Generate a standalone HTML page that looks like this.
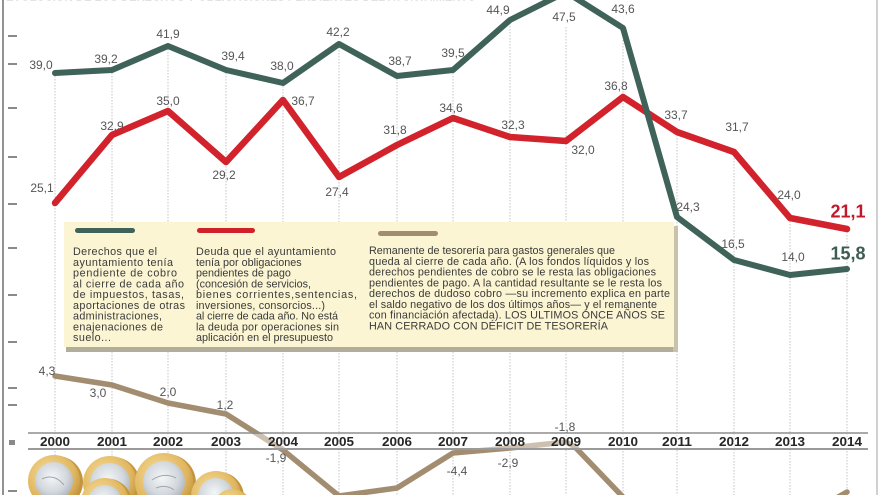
<!DOCTYPE html>
<html><head><meta charset="utf-8"><style>
html,body{margin:0;padding:0;background:#fff;width:880px;height:495px;overflow:hidden;}
svg{display:block;}
text{font-family:"Liberation Sans",sans-serif;}
</style></head><body>
<svg width="880" height="495" viewBox="0 0 880 495" xmlns="http://www.w3.org/2000/svg" overflow="hidden">
<defs>
<radialGradient id="silver" cx="45%" cy="40%" r="65%">
<stop offset="0" stop-color="#f4f6f8"/><stop offset="0.6" stop-color="#d2d8dd"/><stop offset="1" stop-color="#a9b0b6"/>
</radialGradient>
<radialGradient id="gold" cx="40%" cy="35%" r="70%">
<stop offset="0" stop-color="#f6dc98"/><stop offset="0.7" stop-color="#e0b660"/><stop offset="1" stop-color="#c3933d"/>
</radialGradient>
<pattern id="coins" patternUnits="userSpaceOnUse" x="0" y="0" width="880" height="495">
<g transform="translate(54,481)"><circle cx="3" cy="1" r="26" fill="#c3953f"/><circle r="26" fill="url(#gold)"/><circle r="19" fill="url(#silver)"/><path d="M-12,-2 Q0,-8 10,4" stroke="#a0a7ad" stroke-width="1" fill="none"/></g>
<g transform="translate(110,483)"><circle cx="3" cy="1" r="27" fill="#c3953f"/><circle r="27" fill="url(#gold)"/><circle r="20" fill="url(#silver)"/><path d="M-10,0 Q2,-8 12,2" stroke="#a0a7ad" stroke-width="1" fill="none"/></g>
<g transform="translate(105,502)"><circle cx="3" cy="1" r="24" fill="#c3953f"/><circle r="24" fill="url(#gold)"/><circle r="17" fill="url(#silver)"/></g>
<g transform="translate(164,482)"><circle cx="3" cy="1" r="29" fill="#c3953f"/><circle r="29" fill="url(#gold)"/><circle r="21" fill="url(#silver)"/><path d="M-12,-2 Q0,-10 12,-4 M-8,6 Q2,2 10,8" stroke="#a0a7ad" stroke-width="1" fill="none"/></g>
<g transform="translate(216,496)"><circle cx="3" cy="1" r="25" fill="#c3953f"/><circle r="25" fill="url(#gold)"/><circle r="18" fill="url(#silver)"/></g>
<g transform="translate(232,507)"><circle cx="2" cy="1" r="18" fill="#c3953f"/><circle r="18" fill="url(#gold)"/></g>
</pattern>
<pattern id="brown" patternUnits="userSpaceOnUse" x="0" y="0" width="880" height="495">
<polyline points="55,376 112,385 168,403 226,414 283,450 339,496 397,488 453,453 510,448 566,442 575,447 623,497 700,540 780,530 847,492" fill="none" stroke="#a38d70" stroke-width="5.5" stroke-linejoin="round" stroke-linecap="round"/>
</pattern>
</defs>
<rect width="880" height="495" fill="#fff"/>
<!-- faint cut title -->
<text x="6" y="0.5" font-size="11" font-weight="bold" fill="#c4c4c4" textLength="470" lengthAdjust="spacingAndGlyphs">EVOLUCIÓN DE LOS DERECHOS Y OBLIGACIONES PENDIENTES DEL AYUNTAMIENTO</text>
<!-- borders -->
<line x1="3" y1="0" x2="3" y2="495" stroke="#6e6e6e" stroke-width="1.5"/>
<line x1="877" y1="0" x2="877" y2="495" stroke="#a0a0a0" stroke-width="1"/>
<!-- tiny left ticks -->
<g fill="#8a8a8a">
<rect x="8" y="35" width="9" height="2"/><rect x="8" y="63" width="9" height="2"/><rect x="8" y="107" width="9" height="2"/>
<rect x="8" y="156" width="9" height="2"/><rect x="8" y="203" width="9" height="2"/><rect x="8" y="247" width="9" height="2"/>
<rect x="8" y="294" width="9" height="2"/><rect x="8" y="341" width="9" height="2"/><rect x="8" y="387" width="9" height="2"/>
<rect x="8" y="404" width="9" height="2"/><rect x="9" y="440" width="6" height="5"/><rect x="8" y="490" width="9" height="2"/>
</g>
<!-- gridlines -->
<g stroke="#c4c4c4" stroke-width="1" stroke-dasharray="1.5,1.5">
<line x1="55" y1="73" x2="55" y2="495"/>
<line x1="112" y1="70" x2="112" y2="495"/>
<line x1="168" y1="46" x2="168" y2="495"/>
<line x1="226" y1="70" x2="226" y2="495"/>
<line x1="283" y1="83" x2="283" y2="495"/>
<line x1="339" y1="44" x2="339" y2="495"/>
<line x1="397" y1="76" x2="397" y2="495"/>
<line x1="453" y1="70" x2="453" y2="495"/>
<line x1="510" y1="20" x2="510" y2="495"/>
<line x1="566" y1="27" x2="566" y2="495"/>
<line x1="623" y1="28" x2="623" y2="495"/>
<line x1="677" y1="132" x2="677" y2="495"/>
<line x1="734" y1="152" x2="734" y2="495"/>
<line x1="790" y1="218" x2="790" y2="495"/>
<line x1="847" y1="229" x2="847" y2="495"/>
</g>
<!-- legend box -->
<rect x="66" y="346" width="612" height="6" fill="#b3ad9c"/>
<rect x="673" y="226" width="5" height="126" fill="#c9c2ab"/>
<rect x="64" y="222" width="610" height="125" fill="#fbf5d3"/>
<rect x="75" y="228" width="60" height="5" rx="2.5" fill="#3f6259"/>
<rect x="197" y="228" width="58" height="5" rx="2.5" fill="#cf2129"/>
<rect x="378" y="231" width="60" height="5" rx="2.5" fill="#a38d70"/>
<g font-size="10.8" fill="#3a3a3a">
<text x="73" y="255" textLength="84" lengthAdjust="spacing">Derechos que el</text>
<text x="73" y="265.75" textLength="100" lengthAdjust="spacing">ayuntamiento tenía</text>
<text x="73" y="276.5" textLength="104" lengthAdjust="spacing">pendiente de cobro</text>
<text x="73" y="287.25" textLength="111" lengthAdjust="spacing">al cierre de cada año</text>
<text x="73" y="298" textLength="111" lengthAdjust="spacing">de impuestos, tasas,</text>
<text x="73" y="308.75" textLength="112" lengthAdjust="spacing">aportaciones de otras</text>
<text x="73" y="319.5" textLength="89" lengthAdjust="spacing">administraciones,</text>
<text x="73" y="330.25" textLength="90" lengthAdjust="spacing">enajenaciones de</text>
<text x="73" y="341" textLength="38" lengthAdjust="spacing">suelo...</text>

<text x="196" y="255" textLength="140" lengthAdjust="spacing">Deuda que el ayuntamiento</text>
<text x="196" y="265.75">tenía por obligaciones</text>
<text x="196" y="276.5">pendientes de pago</text>
<text x="196" y="287.25" textLength="115" lengthAdjust="spacing">(concesión de servicios,</text>
<text x="196" y="298" textLength="161" lengthAdjust="spacing">bienes corrientes,sentencias,</text>
<text x="196" y="308.75" textLength="129" lengthAdjust="spacing">inversiones, consorcios...)</text>
<text x="196" y="319.5" textLength="142" lengthAdjust="spacing">al cierre de cada año. No está</text>
<text x="196" y="330.25" textLength="143" lengthAdjust="spacing">la deuda por operaciones  sin</text>
<text x="196" y="341" textLength="137" lengthAdjust="spacing">aplicación en el presupuesto</text>

<text x="369" y="254" textLength="246" lengthAdjust="spacing">Remanente de tesorería para gastos generales que</text>
<text x="369" y="264.75" textLength="280" lengthAdjust="spacing">queda al cierre de cada año. (A los fondos líquidos y los</text>
<text x="369" y="275.5" textLength="287" lengthAdjust="spacing">derechos pendientes de cobro se le resta las obligaciones</text>
<text x="369" y="286.25" textLength="293" lengthAdjust="spacing">pendientes de pago. A la cantidad resultante se le resta los</text>
<text x="369" y="297" textLength="301" lengthAdjust="spacing">derechos de dudoso cobro —su incremento explica en parte</text>
<text x="369" y="307.75" textLength="288" lengthAdjust="spacing">el saldo negativo de los dos últimos años— y el remanente</text>
<text x="369" y="318.5" textLength="296" lengthAdjust="spacing">con financiación afectada). LOS ÚLTIMOS ONCE AÑOS SE</text>
<text x="369" y="329.25" textLength="239" lengthAdjust="spacing">HAN CERRADO CON DÉFICIT DE TESORERÍA</text>
</g>
<!-- coins (pattern-clipped) -->
<rect x="20" y="440" width="240" height="55" fill="url(#coins)"/>
<!-- brown line (pattern-clipped) -->
<rect x="40" y="360" width="820" height="135" fill="url(#brown)"/>
<!-- axis band -->
<rect x="28" y="434" width="840" height="14" fill="#fff" fill-opacity="0.45"/>
<line x1="28" y1="433" x2="868" y2="433" stroke="#8e8e8e" stroke-width="1.5"/>
<line x1="28" y1="449" x2="868" y2="449" stroke="#9a9a9a" stroke-width="2"/>
<g font-size="12.5" font-weight="bold" fill="#262626" text-anchor="middle">
<text x="55" y="446" textLength="30" lengthAdjust="spacingAndGlyphs">2000</text>
<text x="112" y="446" textLength="30" lengthAdjust="spacingAndGlyphs">2001</text>
<text x="168" y="446" textLength="30" lengthAdjust="spacingAndGlyphs">2002</text>
<text x="226" y="446" textLength="30" lengthAdjust="spacingAndGlyphs">2003</text>
<text x="283" y="446" textLength="30" lengthAdjust="spacingAndGlyphs">2004</text>
<text x="339" y="446" textLength="30" lengthAdjust="spacingAndGlyphs">2005</text>
<text x="397" y="446" textLength="30" lengthAdjust="spacingAndGlyphs">2006</text>
<text x="453" y="446" textLength="30" lengthAdjust="spacingAndGlyphs">2007</text>
<text x="510" y="446" textLength="30" lengthAdjust="spacingAndGlyphs">2008</text>
<text x="566" y="446" textLength="30" lengthAdjust="spacingAndGlyphs">2009</text>
<text x="623" y="446" textLength="30" lengthAdjust="spacingAndGlyphs">2010</text>
<text x="677" y="446" textLength="30" lengthAdjust="spacingAndGlyphs">2011</text>
<text x="734" y="446" textLength="30" lengthAdjust="spacingAndGlyphs">2012</text>
<text x="790" y="446" textLength="30" lengthAdjust="spacingAndGlyphs">2013</text>
<text x="847" y="446" textLength="30" lengthAdjust="spacingAndGlyphs">2014</text>
</g>
<!-- red line -->
<polyline points="55,203 112,135 168,111 226,162 283,100 339,177 397,145 453,118 510,137 566,141 623,97 677,132 734,152 790,218 847,229" fill="none" stroke="#d2222b" stroke-width="6.5" stroke-linejoin="round" stroke-linecap="round"/>
<!-- green line -->
<polyline points="55,73 112,70 168,46 226,70 283,83 339,44 397,76 453,70 510,20 566,-8 623,28 677,217 734,260 790,275 847,269" fill="none" stroke="#3f6259" stroke-width="6" stroke-linejoin="round" stroke-linecap="round"/>
<!-- labels -->
<g font-size="12" fill="#555" text-anchor="middle">
<text x="41" y="69">39,0</text>
<text x="106" y="63">39,2</text>
<text x="168" y="38">41,9</text>
<text x="233" y="60">39,4</text>
<text x="282" y="70">38,0</text>
<text x="338" y="36">42,2</text>
<text x="400" y="65">38,7</text>
<text x="453" y="57">39,5</text>
<text x="498" y="14">44,9</text>
<text x="564" y="21">47,5</text>
<text x="623" y="13">43,6</text>
<text x="688" y="211">24,3</text>
<text x="733" y="248">16,5</text>
<text x="793" y="261">14,0</text>

<text x="42" y="192">25,1</text>
<text x="112" y="130">32,9</text>
<text x="168" y="105">35,0</text>
<text x="224" y="179">29,2</text>
<text x="303" y="105">36,7</text>
<text x="337" y="196">27,4</text>
<text x="395" y="134">31,8</text>
<text x="451" y="112">34,6</text>
<text x="513" y="129">32,3</text>
<text x="583" y="154">32,0</text>
<text x="616" y="90">36,8</text>
<text x="676" y="119">33,7</text>
<text x="737" y="131">31,7</text>
<text x="789" y="199">24,0</text>

<text x="47" y="375">4,3</text>
<text x="98" y="397">3,0</text>
<text x="168" y="396">2,0</text>
<text x="225" y="409">1,2</text>
<text x="276" y="462">-1,9</text>
<text x="457" y="475">-4,4</text>
<text x="508" y="467">-2,9</text>
<text x="565" y="431">-1,8</text>
</g>
<text x="848" y="217.5" font-size="18" font-weight="bold" fill="#c01a2a" text-anchor="middle">21,1</text>
<text x="848" y="259.5" font-size="18" font-weight="bold" fill="#3d5c52" text-anchor="middle">15,8</text>
</svg>
</body></html>
